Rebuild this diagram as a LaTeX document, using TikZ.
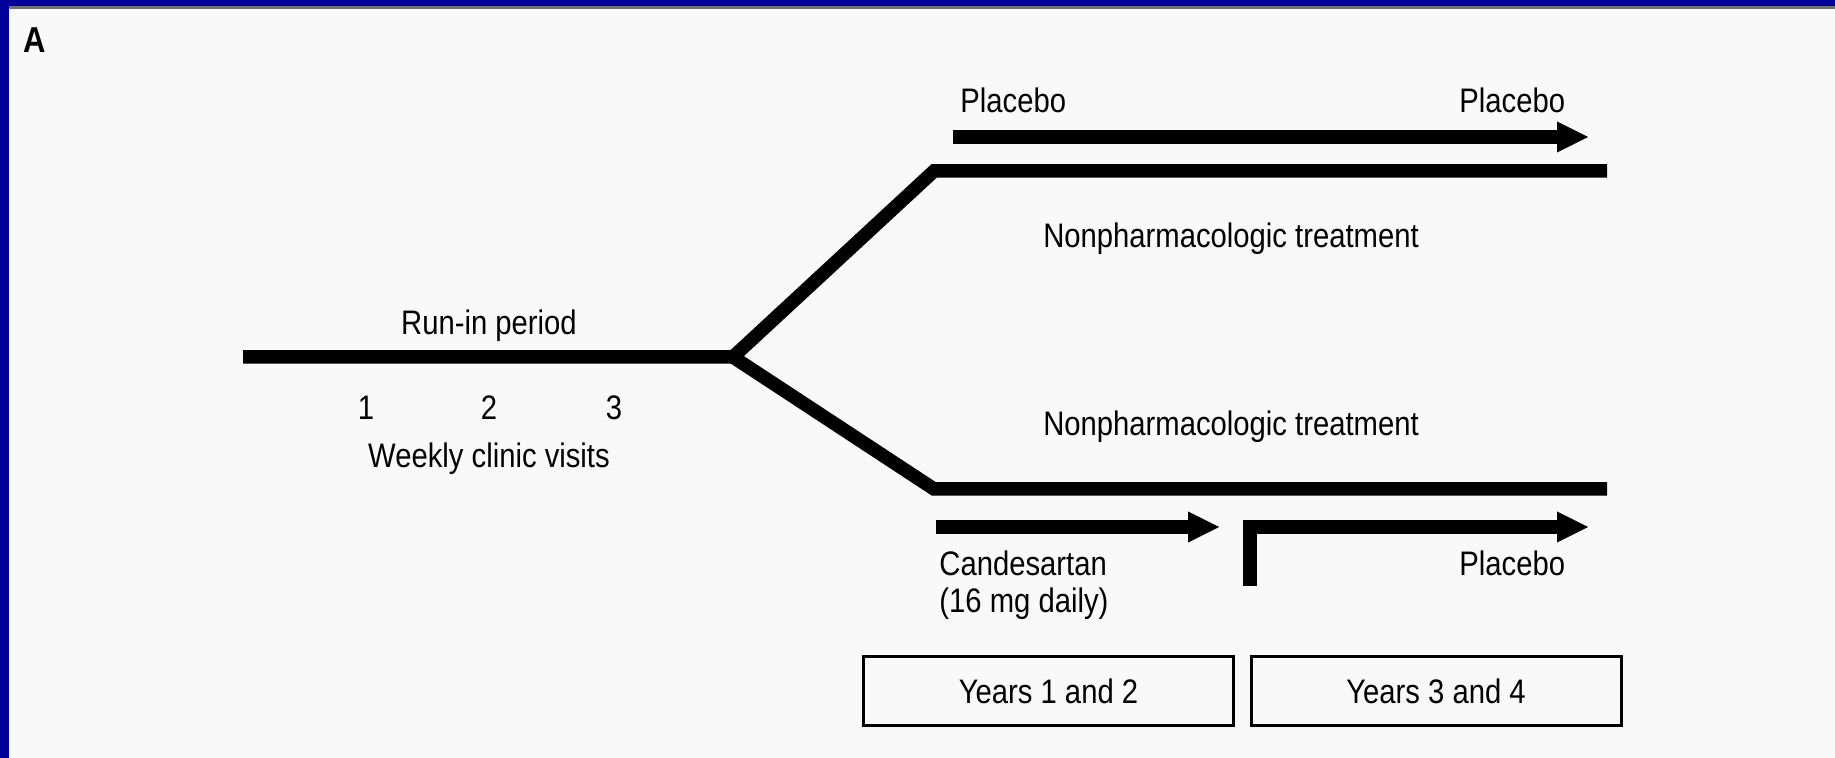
\documentclass[tikz,border=0pt]{standalone}
\usepackage{fontspec}
\setmainfont{Liberation Sans}[FakeStretch=0.86]
\usepackage{xcolor}
\definecolor{frameblue}{RGB}{0,0,153}
\definecolor{framegray}{RGB}{112,112,112}
\definecolor{paper}{RGB}{249,249,249}
\usetikzlibrary{arrows.meta}

\begin{document}
\begin{tikzpicture}[
  x=0.5pt, y=-0.5pt,
  track/.style={line width=6.75pt, line cap=butt, line join=miter},
  drug/.style={line width=7pt, line join=miter,
               -{Triangle[length=15.5pt, width=15.5pt, line width=0pt]}},
  lbl/.style={font=\fontsize{17}{20}\selectfont, inner sep=0pt, anchor=base},
  lblw/.style={lbl, anchor=base west},
  yearbox/.style={draw, line width=1.5pt, minimum width=185pt,
                  minimum height=34.5pt, inner sep=0pt,
                  font=\fontsize{17}{20}\selectfont},
]
  % frame
  \useasboundingbox (0,0) rectangle (1835,758);
  \fill[paper] (0,0) rectangle (1835,758);
  \fill[frameblue] (0,0) rectangle (1835,6);
  \fill[framegray] (9,6) rectangle (1835,9);
  \fill[frameblue] (0,0) rectangle (9,758);

  \node[lblw, font=\fontsize{18}{20}\selectfont\bfseries] (panel) at (23,53) {A};

  % run-in and the two arms
  \coordinate (runstart) at (243,357);
  \coordinate (split) at (733,357);
  \coordinate (upbend) at (934,171);
  \coordinate (upend) at (1607,171);
  \coordinate (lowbend) at (934,489);
  \coordinate (lowend) at (1607,489);
  \draw[track] (runstart) -- (split) -- (upbend) -- (upend);
  \draw[track] (split) -- (lowbend) -- (lowend);

  \node[lbl] (runin) at (489,335) {Run-in period};
  \foreach \wk/\xx in {1/366, 2/489, 3/614}
    \node[lbl] (visit\wk) at (\xx,420) {\wk};
  \node[lbl] (weekly) at (489,468) {Weekly clinic visits};

  % placebo arm
  \coordinate (plastart) at (953,137);
  \coordinate (plaend) at (1588,137);
  \draw[drug] (plastart) -- (plaend);
  \node[lblw] (plaleft) at (960,113) {Placebo};
  \node[lblw] (plaright) at (1459,113) {Placebo};
  \node[lbl] (nonpharmup) at (1231,248) {Nonpharmacologic treatment};

  % candesartan arm
  \node[lbl] (nonpharmlow) at (1231,436) {Nonpharmacologic treatment};
  \coordinate (candstart) at (936,527);
  \coordinate (candend) at (1219,527);
  \draw[drug] (candstart) -- (candend);
  \coordinate (switchfoot) at (1250,586);
  \coordinate (switchtop) at (1250,527);
  \coordinate (switchend) at (1588,527);
  \draw[drug] (switchfoot) -- (switchtop) -- (switchend);
  \node[lblw] (cand) at (939,575) {Candesartan};
  \node[lblw] (dose) at (939,612) {(16 mg daily)};
  \node[lblw] (plalow) at (1459,575) {Placebo};

  % study years
  \node[yearbox] (years12) at (1048.5,691) {Years 1 and 2};
  \node[yearbox] (years34) at (1436,691) {Years 3 and 4};
\end{tikzpicture}
\end{document}
